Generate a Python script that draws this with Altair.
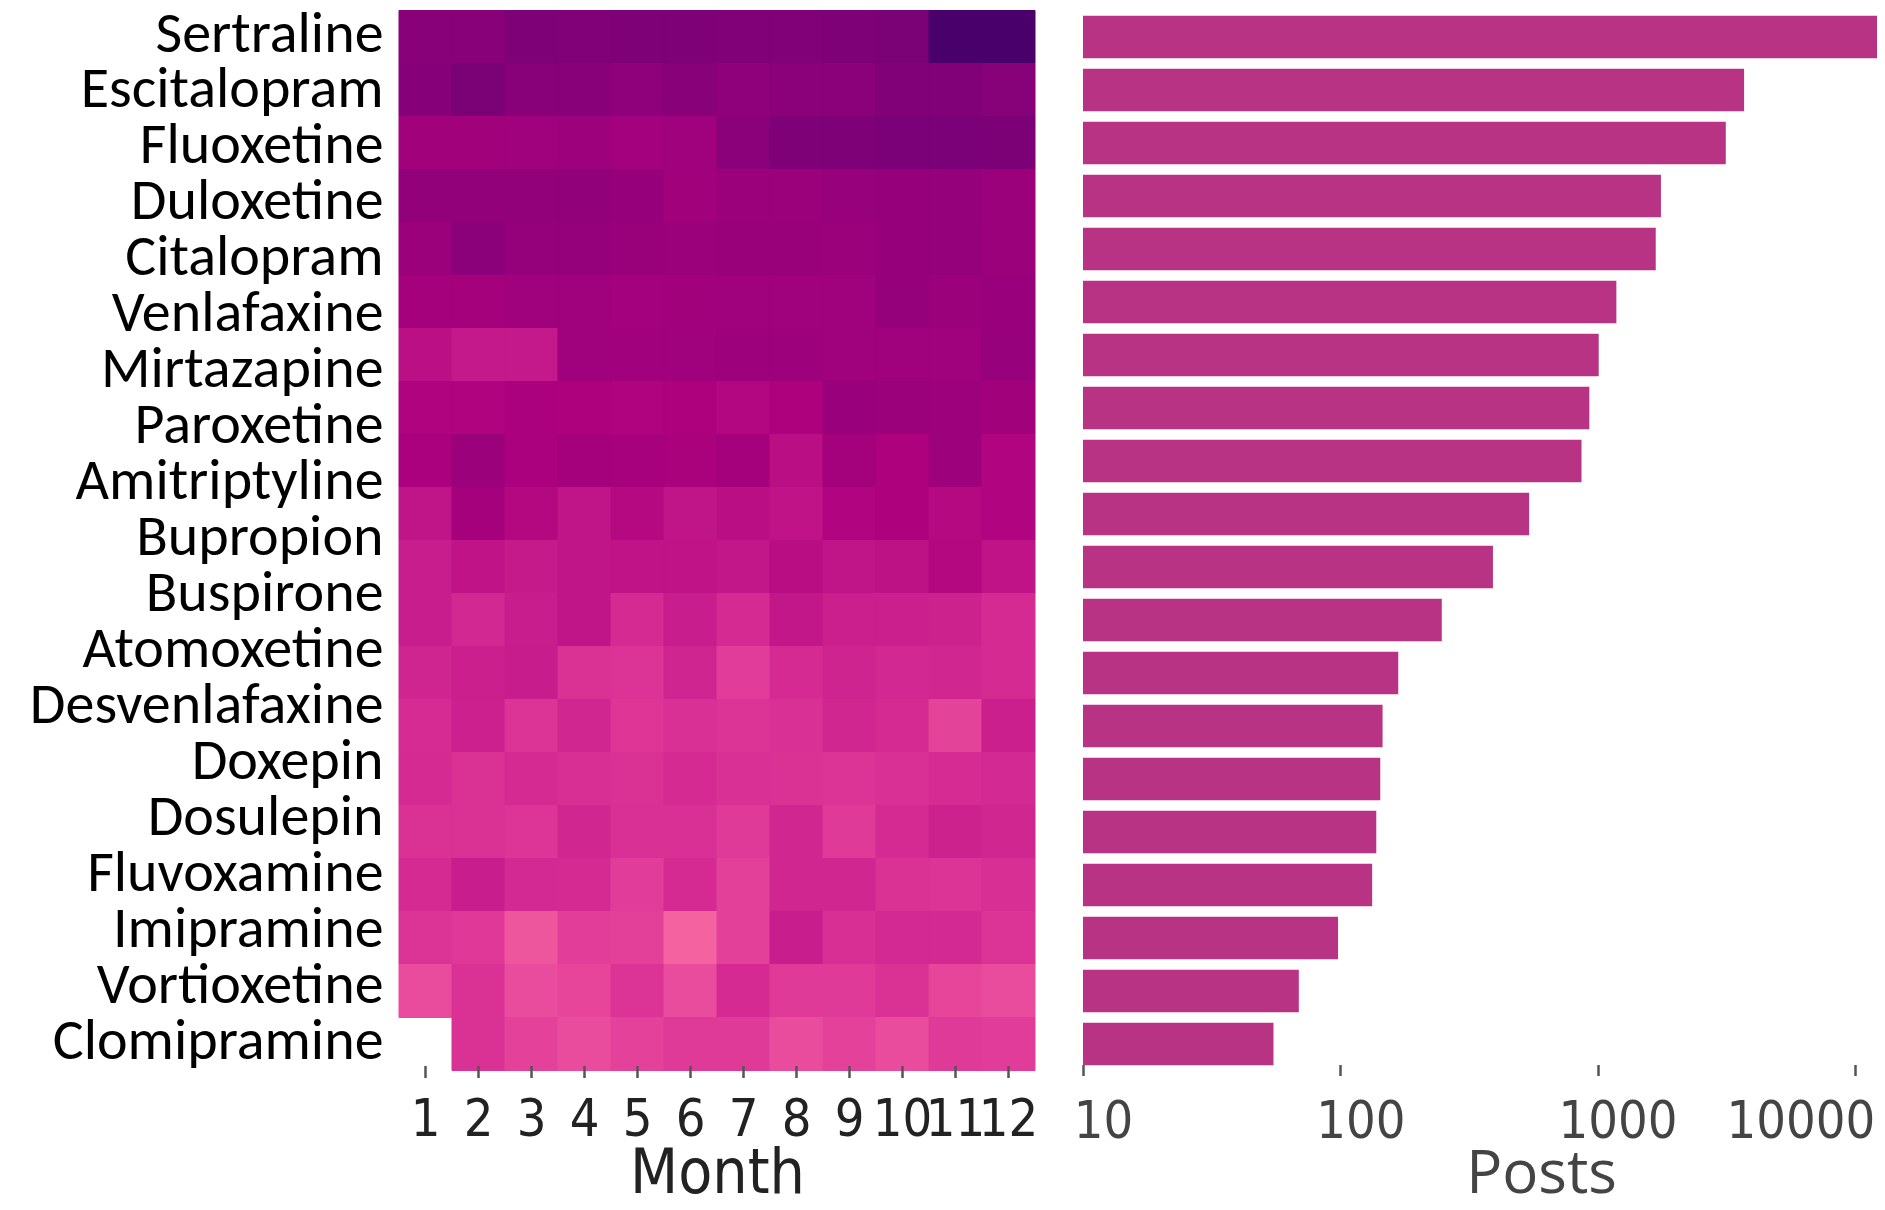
import altair as alt
import pandas as pd

# ---- data ----
drug_labels = ["Sertraline", "Escitalopram", "Fluoxetine", "Duloxetine", "Citalopram",
               "Venlafaxine", "Mirtazapine", "Paroxetine", "Amitriptyline", "Bupropion",
               "Buspirone", "Atomoxetine", "Desvenlafaxine", "Doxepin", "Dosulepin",
               "Fluvoxamine", "Imipramine", "Vortioxetine", "Clomipramine"]
months = list(range(1, 13))
posts_ticks = [10, 100, 1000, 10000]

# posts per drug row (20 rows in the heatmap / bar chart)
posts = [13000, 3710, 3150, 1763, 1683, 1183, 1010, 929, 866, 542,
         392, 248, 168, 146, 143, 138, 133, 98, 69, 55]

# monthly intensity (position on the RdPu colour map), one list per row
intensity = [
    [0.841, 0.841, 0.865, 0.861, 0.863, 0.865, 0.861, 0.861, 0.863, 0.873, 1.000, 1.000],
    [0.846, 0.873, 0.841, 0.841, 0.827, 0.839, 0.827, 0.837, 0.837, 0.861, 0.861, 0.844],
    [0.779, 0.779, 0.784, 0.788, 0.776, 0.784, 0.837, 0.865, 0.865, 0.875, 0.875, 0.870],
    [0.815, 0.815, 0.817, 0.820, 0.808, 0.779, 0.798, 0.798, 0.805, 0.808, 0.813, 0.793],
    [0.798, 0.837, 0.813, 0.813, 0.800, 0.798, 0.800, 0.800, 0.793, 0.808, 0.810, 0.798],
    [0.772, 0.772, 0.784, 0.784, 0.776, 0.779, 0.784, 0.784, 0.784, 0.810, 0.793, 0.803],
    [0.715, 0.691, 0.691, 0.784, 0.781, 0.784, 0.791, 0.791, 0.784, 0.784, 0.784, 0.805],
    [0.745, 0.745, 0.755, 0.750, 0.745, 0.750, 0.737, 0.752, 0.803, 0.793, 0.788, 0.779],
    [0.757, 0.796, 0.757, 0.772, 0.767, 0.760, 0.772, 0.718, 0.774, 0.752, 0.788, 0.742],
    [0.702, 0.772, 0.734, 0.702, 0.731, 0.702, 0.718, 0.705, 0.742, 0.750, 0.731, 0.742],
    [0.681, 0.705, 0.689, 0.702, 0.705, 0.705, 0.697, 0.721, 0.702, 0.710, 0.734, 0.705],
    [0.681, 0.654, 0.681, 0.702, 0.649, 0.681, 0.649, 0.697, 0.676, 0.676, 0.670, 0.649],
    [0.662, 0.676, 0.684, 0.633, 0.628, 0.662, 0.606, 0.649, 0.665, 0.654, 0.660, 0.649],
    [0.646, 0.673, 0.628, 0.660, 0.622, 0.636, 0.628, 0.636, 0.660, 0.649, 0.589, 0.676],
    [0.649, 0.633, 0.649, 0.638, 0.633, 0.649, 0.636, 0.633, 0.628, 0.636, 0.646, 0.652],
    [0.633, 0.633, 0.625, 0.660, 0.636, 0.636, 0.611, 0.660, 0.611, 0.649, 0.670, 0.660],
    [0.649, 0.681, 0.652, 0.649, 0.606, 0.649, 0.596, 0.660, 0.660, 0.633, 0.628, 0.638],
    [0.628, 0.615, 0.546, 0.600, 0.596, 0.514, 0.596, 0.681, 0.638, 0.652, 0.652, 0.628],
    [0.567, 0.633, 0.567, 0.584, 0.628, 0.567, 0.649, 0.611, 0.611, 0.633, 0.584, 0.567],
    [None, 0.633, 0.591, 0.567, 0.591, 0.611, 0.611, 0.567, 0.591, 0.567, 0.611, 0.606],
]

rdpu_stops = [0, 0.125, 0.25, 0.375, 0.5, 0.625, 0.75, 0.875, 1.0]
rdpu_colors = ["#fff7f3", "#fde0dd", "#fcc5c0", "#fa9fb5", "#f768a1",
               "#dd3497", "#ae017e", "#7a0177", "#49006a"]

# ---- tables ----
n_rows = len(intensity)
rows = []
for r, row in enumerate(intensity):
    for m, v in zip(months, row):
        if v is not None:
            rows.append({"row": r, "month": m, "v": v, "y0": r - 0.5, "y1": r + 0.5})
heat_df = pd.DataFrame(rows)
bar_df = pd.DataFrame({"row": list(range(n_rows)), "posts": posts})

n_lab = len(drug_labels)
label_pos = [k * (n_rows - 1) / (n_lab - 1) for k in range(n_lab)]
label_expr = ("[" + ",".join("'%s'" % d for d in drug_labels) + "]"
              + "[round(datum.value*%d/%d)]" % (n_lab - 1, n_rows - 1))

NARROW = "Liberation Sans Narrow, DejaVu Sans Condensed, Roboto"
cscale = alt.Scale(domain=rdpu_stops, range=rdpu_colors, interpolate="rgb")

heat = alt.Chart(heat_df).mark_rect(strokeWidth=1).encode(
    x=alt.X("month:O",
            scale=alt.Scale(paddingInner=0, paddingOuter=0),
            axis=alt.Axis(title="Month", labelAngle=0, labelFont=NARROW, labelFontSize=52,
                          labelColor="#222222", labelBaseline="alphabetic", labelPadding=58,
                          tickSize=12, tickColor="#555555", tickWidth=2.5, offset=-5,
                          domain=False, grid=False, labelOverlap=False,
                          titleFont=NARROW, titleFontSize=62, titleFontWeight="normal",
                          titleColor="#222222", titleBaseline="alphabetic", titleY=127)),
    y=alt.Y("y0:Q",
            scale=alt.Scale(domain=[-0.5, n_rows - 0.5], reverse=True, nice=False, zero=False),
            axis=alt.Axis(values=label_pos, labelExpr=label_expr, title=None, ticks=False,
                          domain=False, grid=False, labelFont="Carlito, Lato",
                          labelFontSize=58, labelColor="#000000", labelPadding=16,
                          labelBaseline="middle", labelOverlap=False, labelLimit=600,
                          labelOffset=-3, minExtent=391, maxExtent=391)),
    y2="y1:Q",
    color=alt.Color("v:Q", scale=cscale, legend=None),
    stroke=alt.Color("v:Q", scale=cscale, legend=None),
).properties(width=636, height=1060)

bars = alt.Chart(bar_df).mark_bar(color="#b93385", clip=True).encode(
    y=alt.Y("row:O", scale=alt.Scale(paddingInner=0.2, paddingOuter=0.1), axis=None),
    x=alt.X("posts:Q",
            scale=alt.Scale(type="log", domain=[10, 12190], nice=False),
            axis=alt.Axis(values=posts_ticks, format="d", title="Posts",
                          labelFont=NARROW, labelFontSize=52, labelColor="#444444",
                          labelBaseline="alphabetic", labelPadding=62,
                          tickSize=11, tickColor="#555555", tickWidth=2.5, offset=-6,
                          domain=False, grid=False, labelFlush=False, labelOverlap=False,
                          labelAlign={"condition": {"test": "datum.value >= 10000", "value": "right"},
                                      "value": "center"},
                          labelOffset=20,
                          titleFont="Open Sans", titleFontSize=60, titleColor="#444444",
                          titleFontWeight="normal", titleBaseline="alphabetic",
                          titleX=458, titleY=128, titleAlign="center")),
    x2=alt.datum(10),
).properties(width=794, height=1060)

chart = alt.hconcat(heat, bars, spacing=35).properties(
    padding={"left": 0, "top": -3.5, "right": 0, "bottom": -6}
).configure_view(strokeWidth=0)

chart.save("out.html", embed_options={"renderer": "svg", "actions": False})
